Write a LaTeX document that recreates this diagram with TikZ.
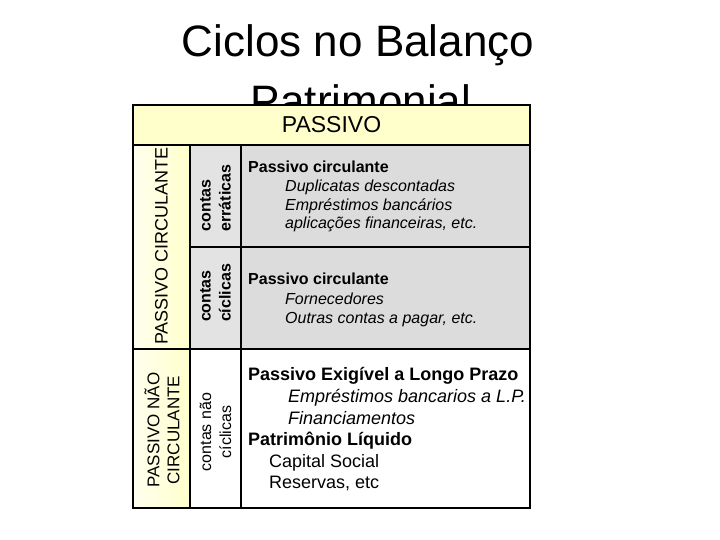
\documentclass[tikz,border=0pt]{standalone}
\usepackage{fontspec}
\setmainfont{Liberation Sans}
\definecolor{hdryellow}{HTML}{FFFFCC}
\definecolor{paleyellow}{HTML}{FFFFEE}
\definecolor{colgray}{HTML}{E3E3E3}
\definecolor{cellgray}{HTML}{DCDCDC}

\begin{document}
\begin{tikzpicture}[x=1pt,y=-1pt,
  maintitle/.style={font=\fontsize{44}{50}\selectfont,anchor=base,inner sep=0pt},
  sidelabel/.style={rotate=90,align=center,inner sep=0pt},
  itemhead/.style={font=\fontsize{16}{19}\selectfont\bfseries,anchor=base west,inner sep=0pt},
  itemline/.style={font=\fontsize{16}{19}\selectfont\itshape,anchor=base west,inner sep=0pt},
  bighead/.style={font=\fontsize{18}{21}\selectfont\bfseries,anchor=base west,inner sep=0pt},
  bigline/.style={font=\fontsize{18}{21}\selectfont,anchor=base west,inner sep=0pt}]
\useasboundingbox (0,0) rectangle (720,540);

% title, partly hidden by the table
\node[maintitle] (titlea) at (358,57) {Ciclos no Balanço};
\node[maintitle] (titleb) at (361,117) {Patrimonial};

% cell fills
\fill[hdryellow] (133,105) rectangle (530,145);
\shade[left color=paleyellow,right color=hdryellow] (133,145) rectangle (190,508);
\fill[colgray] (190,145) rectangle (241,349);
\fill[cellgray] (241,145) rectangle (530,349);
\fill[white] (190,349) rectangle (530,508);

% grid
\begin{scope}[line width=1.5pt]
\draw (133,105) rectangle (530,508);
\draw (133,145) -- (530,145);
\draw (190,145) -- (190,508);
\draw (241,145) -- (241,508);
\draw (190,247) -- (530,247);
\draw (133,349) -- (530,349);
\end{scope}

\node[font=\fontsize{23}{27}\selectfont] (passivo) at (331.5,125) {PASSIVO};

% first column
\node[sidelabel,font=\fontsize{18}{21}\selectfont] (pcirc) at (161.5,246) {PASSIVO CIRCULANTE};
\node[sidelabel,font=\fontsize{17}{20}\selectfont] (pnaocirc) at (162,430) {PASSIVO NÃO\\CIRCULANTE};

% second column
\node[sidelabel,align=left,font=\fontsize{16}{20}\selectfont\bfseries] (errat) at (215.5,198) {contas\\erráticas};
\node[sidelabel,align=left,font=\fontsize{16}{20}\selectfont\bfseries] (cicl) at (215.5,293) {contas\\cíclicas};
\node[sidelabel,font=\fontsize{16}{20}\selectfont] (naocicl) at (215.5,432) {contas não\\cíclicas};

% third column, first row
\node[itemhead] (pca) at (248,173) {Passivo circulante};
\node[itemline] (dupl) at (285,192) {Duplicatas descontadas};
\node[itemline] (empr) at (285,210.5) {Empréstimos bancários};
\node[itemline] (aplic) at (285,229) {aplicações financeiras, etc.};

% third column, second row
\node[itemhead] (pcb) at (248,284) {Passivo circulante};
\node[itemline] (forn) at (285,304) {Fornecedores};
\node[itemline] (outras) at (285,323) {Outras contas a pagar, etc.};

% third column, third row
\node[bighead] (pelp) at (248,380) {Passivo Exigível a Longo Prazo};
\node[bigline,font=\fontsize{18}{21}\selectfont\itshape] (emprlp) at (288,402.5) {Empréstimos bancarios a L.P.};
\node[bigline,font=\fontsize{18}{21}\selectfont\itshape] (financ) at (288,424) {Financiamentos};
\node[bighead] (pl) at (248,445.5) {Patrimônio Líquido};
\node[bigline] (capital) at (269,467.5) {Capital Social};
\node[bigline] (reserv) at (269,488.5) {Reservas, etc};

\end{tikzpicture}
\end{document}
